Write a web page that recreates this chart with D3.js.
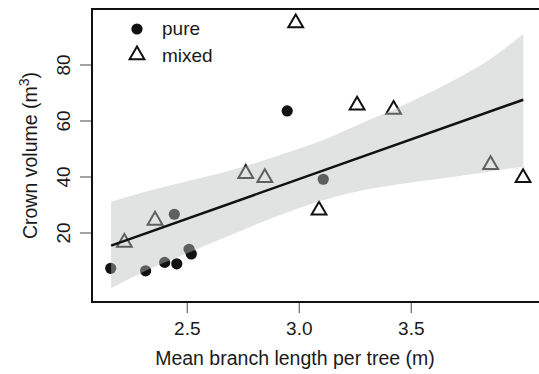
<!DOCTYPE html>
<html>
<head>
<meta charset="utf-8">
<style>
body { margin: 0; background: #ffffff; }
text { font-family: "Liberation Sans", Arial, sans-serif; fill: #1a1a1a; }
.tick-label { font-size: 19px; }
.axis-title { font-size: 19.5px; }
</style>
<script src="https://d3js.org/d3.v7.min.js"></script>
</head>
<body>
<script>

// data
var pureX  = [2.158, 2.314, 2.399, 2.453, 2.508, 2.518, 2.442, 2.946, 3.107];
var pureY  = [7.4, 6.5, 9.5, 9.0, 14.2, 12.5, 26.7, 63.6, 39.2];
var mixedX = [2.219, 2.356, 2.761, 2.846, 2.984, 3.088, 3.258, 3.421, 3.854, 3.999];
var mixedY = [16.6, 24.5, 41.2, 39.7, 95.0, 28.1, 65.6, 64.1, 44.4, 39.7];

var fitX = [2.16, 4.0];
var fitY = [15.5, 67.6];

var bandX  = [2.16, 2.3, 2.5, 2.7, 2.9, 3.1, 3.3, 3.5, 3.7, 3.85, 4.0];
var bandLo = [0.3, 6.0, 12.8, 19.5, 26.0, 31.5, 35.5, 38.0, 40.2, 42.0, 43.7];
var bandHi = [31.2, 34.5, 38.5, 42.5, 47.5, 53.0, 60.0, 67.0, 75.0, 82.0, 91.1];

var xTicks = [2.5, 3.0, 3.5];
var yTicks = [20, 40, 60, 80];
var legendLabels = ["pure", "mixed"];

var width = 539, height = 374;
var pLeft = 92, pTop = 9, pRight = 541, pBottom = 302;

var svg = d3.select("body").append("svg")
    .attr("width", width)
    .attr("height", height);

var x = d3.scaleLinear().domain([2.0746, 4.079]).range([pLeft, pRight]);
var y = d3.scaleLinear().domain([-4.64, 100]).range([pBottom, pTop]);

// points (drawn under the band)
svg.selectAll(".pure")
  .data(d3.zip(pureX, pureY))
  .enter().append("circle")
  .attr("cx", function(d) { return x(d[0]); })
  .attr("cy", function(d) { return y(d[1]); })
  .attr("r", 5.6)
  .attr("fill", "#111111");

var tri = d3.symbol().type(d3.symbolTriangle).size(95);

svg.selectAll(".mixed")
  .data(d3.zip(mixedX, mixedY))
  .enter().append("path")
  .attr("d", tri)
  .attr("transform", function(d) { return "translate(" + x(d[0]) + "," + y(d[1]) + ")"; })
  .attr("fill", "none")
  .attr("stroke", "#111111")
  .attr("stroke-width", 2);

// confidence band
var area = d3.area()
    .x(function(d) { return x(d[0]); })
    .y0(function(d) { return y(d[1]); })
    .y1(function(d) { return y(d[2]); })
    .curve(d3.curveMonotoneX);

svg.append("path")
  .datum(d3.zip(bandX, bandLo, bandHi))
  .attr("d", area)
  .attr("fill", "#bcc0be")
  .attr("fill-opacity", 0.45);

// fitted line
svg.append("line")
  .attr("x1", x(fitX[0])).attr("y1", y(fitY[0]))
  .attr("x2", x(fitX[1])).attr("y2", y(fitY[1]))
  .attr("stroke", "#111111")
  .attr("stroke-width", 2.5);

// frame
svg.append("rect")
  .attr("x", pLeft).attr("y", pTop)
  .attr("width", pRight - pLeft).attr("height", pBottom - pTop)
  .attr("fill", "none")
  .attr("stroke", "#111111")
  .attr("stroke-width", 2);

// x axis
var xa = svg.append("g").attr("transform", "translate(0," + pBottom + ")");
xa.selectAll("line").data(xTicks).enter().append("line")
  .attr("x1", x).attr("x2", x)
  .attr("y1", 1).attr("y2", 11)
  .attr("stroke", "#666666").attr("stroke-width", 1.2);
xa.selectAll("text").data(xTicks).enter().append("text")
  .attr("class", "tick-label")
  .attr("x", x).attr("y", 33)
  .attr("text-anchor", "middle")
  .text(function(d) { return d.toFixed(1); });

// y axis
var ya = svg.append("g").attr("transform", "translate(" + pLeft + ",0)");
ya.selectAll("line").data(yTicks).enter().append("line")
  .attr("y1", y).attr("y2", y)
  .attr("x1", -1).attr("x2", -12)
  .attr("stroke", "#666666").attr("stroke-width", 1.2);
ya.selectAll("text").data(yTicks).enter().append("text")
  .attr("class", "tick-label")
  .attr("transform", function(d) { return "translate(-22," + y(d) + ") rotate(-90)"; })
  .attr("text-anchor", "middle")
  .text(function(d) { return d; });

// axis titles
svg.append("text")
  .attr("class", "axis-title")
  .attr("x", 295).attr("y", 365)
  .attr("text-anchor", "middle")
  .text("Mean branch length per tree (m)");

var yt = svg.append("text")
  .attr("class", "axis-title")
  .attr("transform", "translate(37," + ((pTop + pBottom) / 2) + ") rotate(-90)")
  .attr("text-anchor", "middle");
yt.append("tspan").text("Crown volume (m");
yt.append("tspan").attr("dy", -8).style("font-size", "14px").text("3");
yt.append("tspan").attr("dy", 8).text(")");

// legend
var lg = svg.append("g");
lg.append("circle").attr("cx", 137).attr("cy", 29).attr("r", 5.6).attr("fill", "#111111");
lg.append("path").attr("d", tri)
  .attr("transform", "translate(137,55)")
  .attr("fill", "none").attr("stroke", "#111111").attr("stroke-width", 2);
lg.selectAll("text").data(legendLabels).enter().append("text")
  .attr("class", "tick-label")
  .attr("x", 162)
  .attr("y", function(d, i) { return 35 + i * 26.5; })
  .text(function(d) { return d; });

</script>
</body>
</html>
